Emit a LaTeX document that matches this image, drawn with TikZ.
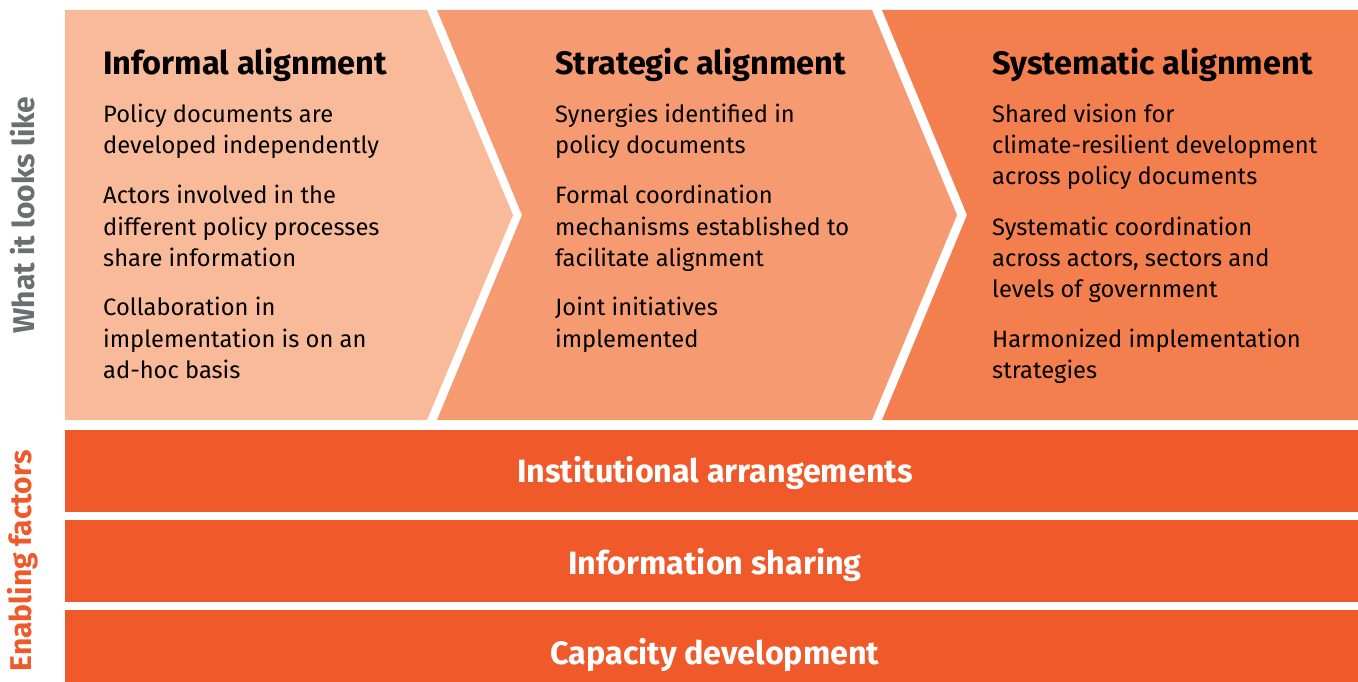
\documentclass[tikz,border=0pt]{standalone}
\usepackage{fontspec}
\setmainfont{Fira Sans}
\definecolor{pone}{HTML}{F9BA9A}
\definecolor{ptwo}{HTML}{F69B71}
\definecolor{pthree}{HTML}{F37E4E}
\definecolor{barc}{HTML}{F05A2B}
\definecolor{greyc}{HTML}{6D6E71}
\begin{document}
\begin{tikzpicture}[x=1pt,y=-1pt,
  body/.style={anchor=base west,inner sep=0pt,font=\fontsize{23.7}{31}\selectfont,text=black},
  head/.style={anchor=base west,inner sep=0pt,font=\fontsize{32.5}{36}\selectfont\bfseries,text=black},
  bartext/.style={inner sep=0pt,font=\fontsize{32.3}{36}\selectfont\bfseries,text=white},
  sidelabel/.style={inner sep=0pt,rotate=90,font=\fontsize{30}{34}\selectfont\bfseries}]
\useasboundingbox (0,0) rectangle (1358,682);
\fill[white] (0,0) rectangle (1358,682);
% chevron panels
\fill[pone] (65,10) -- (427,10) -- (513,215) -- (427,420) -- (65,420) -- cycle;
\fill[ptwo] (437,10) -- (872,10) -- (957,215) -- (872,420) -- (437,420) -- (522,215) -- cycle;
\fill[pthree] (882,10) -- (1358,10) -- (1358,420) -- (882,420) -- (967,215) -- cycle;
% bars
\fill[barc] (65,430) rectangle (1358,512);
\fill[barc] (65,520) rectangle (1358,602);
\fill[barc] (65,610) rectangle (1358,682);
% side labels
\node[sidelabel,text=greyc] (lwhat) at (23,215) {What it looks like};
\node[sidelabel,text=barc] (lenab) at (23,561) {Enabling factors};
% column 1
\node[head] (h1) at (103,75) {Informal alignment};
\node[body] (a1) at (103,123) {Policy documents are};
\node[body] (a2) at (103,154) {developed independently};
\node[body] (a3) at (103,204) {Actors involved in the};
\node[body] (a4) at (103,235) {different policy processes};
\node[body] (a5) at (103,266) {share information};
\node[body] (a6) at (103,315) {Collaboration in};
\node[body] (a7) at (103,347) {implementation is on an};
\node[body] (a8) at (103,378) {ad-hoc basis};
% column 2
\node[head] (h2) at (555,75) {Strategic alignment};
\node[body] (b1) at (555,123) {Synergies identified in};
\node[body] (b2) at (555,154) {policy documents};
\node[body] (b3) at (555,204) {Formal coordination};
\node[body] (b4) at (555,235) {mechanisms established to};
\node[body] (b5) at (555,266) {facilitate alignment};
\node[body] (b6) at (555,315) {Joint initiatives};
\node[body] (b7) at (555,347) {implemented};
% column 3
\node[head] (h3) at (992,75) {Systematic alignment};
\node[body] (c1) at (992,123) {Shared vision for};
\node[body] (c2) at (992,154) {climate-resilient development};
\node[body] (c3) at (992,185) {across policy documents};
\node[body] (c4) at (992,235) {Systematic coordination};
\node[body] (c5) at (992,266) {across actors, sectors and};
\node[body] (c6) at (992,297) {levels of government};
\node[body] (c7) at (992,347) {Harmonized implementation};
\node[body] (c8) at (992,378) {strategies};
% bar texts
\node[bartext] (t1) at (715,473) {Institutional arrangements};
\node[bartext] (t2) at (715,565) {Information sharing};
\node[bartext] (t3) at (715,655) {Capacity development};
\end{tikzpicture}
\end{document}
